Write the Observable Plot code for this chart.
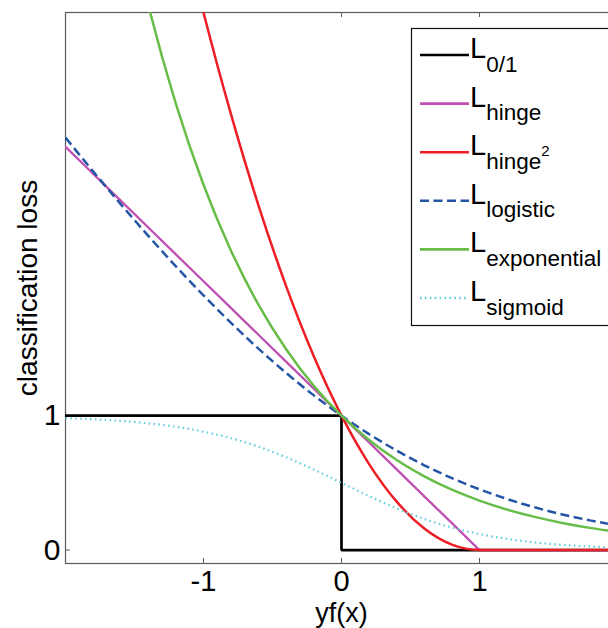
<!DOCTYPE html>
<html>
<head>
<meta charset="utf-8">
<script src="https://cdn.jsdelivr.net/npm/d3@7"></script>
<script src="https://cdn.jsdelivr.net/npm/@observablehq/plot@0.6"></script>
<style>
  html, body { margin: 0; padding: 0; background: #fff; }
  #wrap { position: relative; width: 608px; height: 628px; overflow: hidden; }
  #wrap svg { position: absolute; left: 0; top: 0; max-width: none !important; }
</style>
</head>
<body>
<div id="wrap"></div>
<script>
// ---- data ----
const zs = [-2, -1.8, -1.6, -1.4, -1.2, -1, -0.8, -0.6, -0.4, -0.2, 0, 0.2, 0.4, 0.6, 0.8, 1, 1.2, 1.4, 1.6, 1.8, 2];
const zeroOneX = [-2, 0, 0, 2];
const zeroOneY = [1, 1, 0, 0];
const hingeY = [3, 2.8, 2.6, 2.4, 2.2, 2, 1.8, 1.6, 1.4, 1.2, 1, 0.8, 0.6, 0.4, 0.2, 0, 0, 0, 0, 0, 0];
const hinge2Y = [9, 7.84, 6.76, 5.76, 4.84, 4, 3.24, 2.56, 1.96, 1.44, 1, 0.64, 0.36, 0.16, 0.04, 0, 0, 0, 0, 0, 0];
const logisticY = [3.069, 2.818, 2.574, 2.338, 2.111, 1.895, 1.690, 1.497, 1.317, 1.151, 1, 0.863, 0.740, 0.631, 0.535, 0.452, 0.380, 0.318, 0.265, 0.221, 0.183];
const expY = [7.389, 6.050, 4.953, 4.055, 3.320, 2.718, 2.226, 1.822, 1.492, 1.221, 1, 0.819, 0.670, 0.549, 0.449, 0.368, 0.301, 0.247, 0.202, 0.165, 0.135];
const sigmoidY = [0.982, 0.973, 0.961, 0.943, 0.917, 0.881, 0.832, 0.769, 0.690, 0.599, 0.5, 0.401, 0.310, 0.231, 0.168, 0.119, 0.083, 0.057, 0.039, 0.027, 0.018];
const xTicks = [-1, 0, 1];
const yTicks = [0, 1];
const legendMain = ["L", "L", "L", "L", "L", "L"];
const legendSub = ["0/1", "hinge", "hinge", "logistic", "exponential", "sigmoid"];
const legendSup = ["", "", "2", "", "", ""];

// ---- styles ----
const colors = ["#000000", "#c04fb2", "#ee1d25", "#2455a6", "#67bd47", "#67cde0"];
const dashes = [null, null, null, "9,4.5", null, "1.6,3.3"];
const widths = [2.7, 2.3, 2.5, 2.5, 2.5, 2.2];
const curves = ["linear", "linear", "monotone-x", "monotone-x", "monotone-x", "monotone-x"];

const W = 618, H = 628;
const mL = 65, mT = 12, mB = 65, mR = 1;
const frameW = W - mL - mR, frameH = H - mT - mB;
const font = "'Liberation Sans', Arial, sans-serif";

const seriesX = [zeroOneX, zs, zs, zs, zs, zs];
const seriesY = [zeroOneY, hingeY, hinge2Y, logisticY, expY, sigmoidY];

const lineMarks = seriesY.map((ys, k) => Plot.line(
  ys.map((v, i) => ({x: seriesX[k][i], y: v})),
  {x: "x", y: "y", stroke: colors[k], strokeWidth: widths[k],
   strokeDasharray: dashes[k] || undefined, curve: curves[k], clip: true,
   strokeLinecap: dashes[k] ? "butt" : "round", strokeLinejoin: "miter"}
));

const chart = Plot.plot({
  width: W, height: H,
  marginLeft: mL, marginTop: mT, marginBottom: mB, marginRight: mR,
  style: {fontFamily: font, background: "white", color: "#000", maxWidth: "none", width: W + "px", height: H + "px"},
  x: {domain: [-2, 2]},
  y: {domain: [-0.1, 4]},
  marks: [
    Plot.frame({stroke: "#5a5a5a", strokeWidth: 1.2}),
    Plot.ruleX(xTicks, {x: d => d, insetTop: frameH - 5, stroke: "#5a5a5a"}),
    Plot.ruleX(xTicks, {x: d => d, insetBottom: frameH - 5, stroke: "#5a5a5a"}),
    Plot.ruleY(yTicks, {y: d => d, insetRight: frameW - 5, stroke: "#5a5a5a"}),
    Plot.axisX(xTicks, {tickSize: 0, tickPadding: 7, fontSize: 29, label: null, tickFormat: d => String(d)}),
    Plot.axisY(yTicks, {tickSize: 0, tickPadding: 5, fontSize: 30, label: null, tickFormat: d => String(d)}),
    ...lineMarks,
    Plot.text(["yf(x)"], {frameAnchor: "bottom", lineAnchor: "middle", textAnchor: "middle", dy: 50, fontSize: 27, text: d => d, fill: "#000"}),
    Plot.text(["classification loss"], {frameAnchor: "left", lineAnchor: "middle", textAnchor: "middle", dx: -37, rotate: -90, fontSize: 28, text: d => d, fill: "#000"})
  ]
});

const wrap = document.getElementById("wrap");
wrap.appendChild(chart);

// ---- legend overlay ----
const leg = d3.select(wrap).append("svg")
  .attr("width", W).attr("height", H)
  .style("pointer-events", "none")
  .style("font-family", font);
leg.append("rect")
  .attr("x", 411.5).attr("y", 28.5).attr("width", 220).attr("height", 297)
  .attr("fill", "white").attr("stroke", "#111").attr("stroke-width", 1.2);
legendSub.forEach((sub, i) => {
  const ly = 55 + i * 48.6;
  leg.append("line")
    .attr("x1", 420).attr("x2", 469).attr("y1", ly).attr("y2", ly)
    .attr("stroke", colors[i]).attr("stroke-width", 2.6)
    .attr("stroke-dasharray", dashes[i]);
  const t = leg.append("text")
    .attr("x", 470).attr("y", ly + 3).attr("font-size", 29).attr("fill", "#000")
    .text(legendMain[i]);
  t.append("tspan").attr("font-size", 22.5).attr("dy", 13.5).text(sub);
  if (legendSup[i]) t.append("tspan").attr("font-size", 15).attr("dy", -13).text(legendSup[i]);
});
</script>
</body>
</html>
